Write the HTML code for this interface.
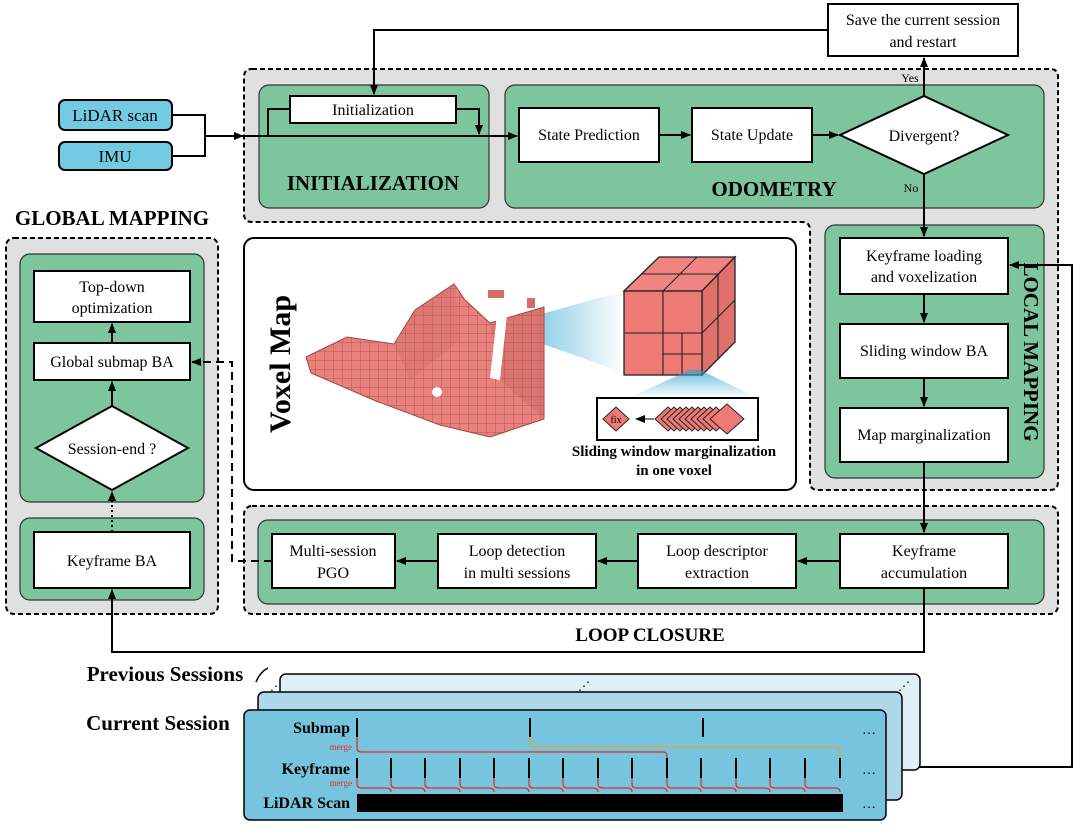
<!DOCTYPE html>
<html><head><meta charset="utf-8"><style>
html,body{margin:0;padding:0;background:#fff;}
svg{display:block;font-family:"Liberation Serif",serif;}
</style></head><body>
<svg width="1080" height="834" viewBox="0 0 1080 834" xmlns="http://www.w3.org/2000/svg">
<defs>
<marker id="a" markerWidth="10" markerHeight="10" refX="9" refY="5" orient="auto" markerUnits="userSpaceOnUse"><path d="M0,1 L10,5 L0,9 Z" fill="#000"/></marker>
<pattern id="grid" width="9" height="9" patternUnits="userSpaceOnUse"><rect width="9" height="9" fill="#e9817c"/><path d="M0,0 H9 M0,0 V9" stroke="#b85450" stroke-width="1"/></pattern>
<linearGradient id="cone" x1="0" x2="1" y1="0" y2="0"><stop offset="0" stop-color="#2aa3d0"/><stop offset="1" stop-color="#2aa3d0" stop-opacity="0"/></linearGradient>
<linearGradient id="cone2" x1="0" x2="0" y1="0" y2="1"><stop offset="0" stop-color="#2aa3d0"/><stop offset="1" stop-color="#2aa3d0" stop-opacity="0"/></linearGradient>
</defs>

<path d="M252,69 H1050 Q1058,69 1058,77 V482 Q1058,490 1050,490 H818 Q810,490 810,482 V230 Q810,222 802,222 H252 Q244,222 244,214 V77 Q244,69 252,69 Z" fill="#e0e0e0" stroke="#000" stroke-width="2" stroke-dasharray="5,3"/>
<rect x="6" y="238" width="212" height="376" rx="8" fill="#e0e0e0" stroke="#000" stroke-width="2" stroke-dasharray="5,3"/>
<rect x="244" y="506" width="814" height="108" rx="8" fill="#e0e0e0" stroke="#000" stroke-width="2" stroke-dasharray="5,3"/>

<rect x="259" y="85" width="230" height="123" rx="10" fill="#7dc59d" stroke="#333" stroke-width="1.2"/>
<rect x="505" y="85" width="539" height="123" rx="10" fill="#7dc59d" stroke="#333" stroke-width="1.2"/>
<rect x="825" y="225" width="219" height="253" rx="10" fill="#7dc59d" stroke="#333" stroke-width="1.2"/>
<rect x="20" y="254" width="184" height="248" rx="10" fill="#7dc59d" stroke="#333" stroke-width="1.2"/>
<rect x="20" y="518" width="184" height="82" rx="10" fill="#7dc59d" stroke="#333" stroke-width="1.2"/>
<rect x="258" y="520" width="786" height="84" rx="10" fill="#7dc59d" stroke="#333" stroke-width="1.2"/>

<text x="373" y="190" font-size="21" font-weight="bold" text-anchor="middle">INITIALIZATION</text>
<text x="774" y="196" font-size="21" font-weight="bold" text-anchor="middle">ODOMETRY</text>
<text x="112" y="225" font-size="21" font-weight="bold" text-anchor="middle">GLOBAL MAPPING</text>
<text x="650" y="641" font-size="19" font-weight="bold" text-anchor="middle">LOOP CLOSURE</text>
<text transform="translate(1024,352) rotate(90)" font-size="21" font-weight="bold" text-anchor="middle">LOCAL MAPPING</text>

<path d="M828,30 H374 V94" fill="none" stroke="#000" stroke-width="2" marker-end="url(#a)"/>
<path d="M172,115 H205 V156 H172" fill="none" stroke="#000" stroke-width="2"/>
<path d="M205,136 H243" stroke="#000" stroke-width="2" marker-end="url(#a)"/>
<path d="M243,136 H517" stroke="#000" stroke-width="2" marker-end="url(#a)"/>
<path d="M268,136 V109 H290" fill="none" stroke="#000" stroke-width="2"/>
<path d="M456,109 H479 V134" fill="none" stroke="#000" stroke-width="2" marker-end="url(#a)"/>
<path d="M659,135 H690" stroke="#000" stroke-width="2" marker-end="url(#a)"/>
<path d="M812,135 H838" stroke="#000" stroke-width="2" marker-end="url(#a)"/>
<path d="M924,96 V58" stroke="#000" stroke-width="2" marker-end="url(#a)"/>
<path d="M924,174 V236" stroke="#000" stroke-width="2" marker-end="url(#a)"/>
<path d="M924,294 V322" stroke="#000" stroke-width="2" marker-end="url(#a)"/>
<path d="M924,378 V406" stroke="#000" stroke-width="2" marker-end="url(#a)"/>
<path d="M924,462 V532" stroke="#000" stroke-width="2" marker-end="url(#a)"/>
<path d="M840,561 H798" stroke="#000" stroke-width="2" marker-end="url(#a)"/>
<path d="M638,561 H598" stroke="#000" stroke-width="2" marker-end="url(#a)"/>
<path d="M438,561 H397" stroke="#000" stroke-width="2" marker-end="url(#a)"/>
<path d="M924,588 V652 H112 V590" fill="none" stroke="#000" stroke-width="2" marker-end="url(#a)"/>
<path d="M112,343 V324" stroke="#000" stroke-width="2" marker-end="url(#a)"/>
<path d="M112,406 V382" stroke="#000" stroke-width="2" marker-end="url(#a)"/>
<path d="M112,532 V492" stroke="#000" stroke-width="2" stroke-dasharray="2,3" marker-end="url(#a)"/>
<path d="M272,561 H232 V362 H192" fill="none" stroke="#000" stroke-width="2" stroke-dasharray="8,5" marker-end="url(#a)"/>
<path d="M900,767 H1072 V265 H1010" fill="none" stroke="#000" stroke-width="2" marker-end="url(#a)"/>

<rect x="828" y="4" width="190" height="52" fill="#fff" stroke="#000" stroke-width="2"/>
<text x="923" y="25" font-size="16" text-anchor="middle">Save the current session</text>
<text x="923" y="47" font-size="16" text-anchor="middle">and restart</text>

<rect x="59" y="100" width="113" height="30" rx="6" fill="#72cbe3" stroke="#000" stroke-width="2"/>
<text x="115" y="121" font-size="17" text-anchor="middle">LiDAR scan</text>
<rect x="59" y="142" width="113" height="28" rx="6" fill="#72cbe3" stroke="#000" stroke-width="2"/>
<text x="115" y="162" font-size="17" text-anchor="middle">IMU</text>
<rect x="290" y="96" width="166" height="27" fill="#fff" stroke="#000" stroke-width="2"/>
<text x="373" y="115" font-size="16" text-anchor="middle">Initialization</text>

<rect x="519" y="108" width="140" height="54" fill="#fff" stroke="#000" stroke-width="2"/>
<text x="589" y="140" font-size="16" text-anchor="middle">State Prediction</text>
<rect x="692" y="108" width="120" height="54" fill="#fff" stroke="#000" stroke-width="2"/>
<text x="752" y="140" font-size="16" text-anchor="middle">State Update</text>
<polygon points="840,135 924,96 1008,135 924,174" fill="#fff" stroke="#000" stroke-width="2"/>
<text x="924" y="141" font-size="16" text-anchor="middle">Divergent?</text>
<text x="910" y="82" font-size="12" text-anchor="middle">Yes</text>
<text x="911" y="192" font-size="12" text-anchor="middle">No</text>

<rect x="840" y="238" width="168" height="56" fill="#fff" stroke="#000" stroke-width="2"/>
<text x="924" y="261" font-size="16" text-anchor="middle">Keyframe loading</text>
<text x="924" y="282" font-size="16" text-anchor="middle">and voxelization</text>
<rect x="840" y="324" width="168" height="54" fill="#fff" stroke="#000" stroke-width="2"/>
<text x="924" y="356" font-size="16" text-anchor="middle">Sliding window BA</text>
<rect x="840" y="408" width="168" height="54" fill="#fff" stroke="#000" stroke-width="2"/>
<text x="924" y="440" font-size="16" text-anchor="middle">Map marginalization</text>

<rect x="840" y="534" width="168" height="54" fill="#fff" stroke="#000" stroke-width="2"/>
<text x="924" y="556" font-size="16" text-anchor="middle">Keyframe</text>
<text x="924" y="578" font-size="16" text-anchor="middle">accumulation</text>
<rect x="638" y="534" width="158" height="54" fill="#fff" stroke="#000" stroke-width="2"/>
<text x="717" y="556" font-size="16" text-anchor="middle">Loop descriptor</text>
<text x="717" y="578" font-size="16" text-anchor="middle">extraction</text>
<rect x="438" y="534" width="158" height="54" fill="#fff" stroke="#000" stroke-width="2"/>
<text x="517" y="556" font-size="16" text-anchor="middle">Loop detection</text>
<text x="517" y="578" font-size="16" text-anchor="middle">in multi sessions</text>
<rect x="272" y="534" width="123" height="54" fill="#fff" stroke="#000" stroke-width="2"/>
<text x="333" y="556" font-size="16" text-anchor="middle">Multi-session</text>
<text x="333" y="578" font-size="16" text-anchor="middle">PGO</text>

<rect x="34" y="271" width="156" height="51" fill="#fff" stroke="#000" stroke-width="2"/>
<text x="112" y="292" font-size="16" text-anchor="middle">Top-down</text>
<text x="112" y="313" font-size="16" text-anchor="middle">optimization</text>
<rect x="34" y="343" width="156" height="37" fill="#fff" stroke="#000" stroke-width="2"/>
<text x="112" y="367" font-size="16" text-anchor="middle">Global submap BA</text>
<polygon points="36,448 112,406 188,448 112,490" fill="#fff" stroke="#000" stroke-width="2"/>
<text x="112" y="454" font-size="16" text-anchor="middle">Session-end ?</text>
<rect x="34" y="532" width="156" height="56" fill="#fff" stroke="#000" stroke-width="2"/>
<text x="112" y="566" font-size="16" text-anchor="middle">Keyframe BA</text>

<rect x="244" y="238" width="552" height="252" rx="10" fill="#fff" stroke="#000" stroke-width="2"/>
<text transform="translate(290,364) rotate(-90)" font-size="30" font-weight="bold" text-anchor="middle">Voxel Map</text>
<polygon points="495,327 624,291 624,375 616,370" fill="url(#cone)" opacity="0.8"/>
<polygon points="306,357 347,337 394,344 415,310 454,284 465,300 490,323 544,307 544,419 490,437 440,425 376,401 311,373" fill="url(#grid)" stroke="#a04844" stroke-width="1"/>
<polygon points="395,345 415,310 455,284 460,340 410,380" fill="#b85450" opacity="0.2"/>
<polygon points="490,323 544,307 544,419 500,380" fill="#b85450" opacity="0.25"/>
<rect x="488" y="290" width="16" height="8" fill="#d36d69"/>
<rect x="527" y="298" width="8" height="10" fill="#d36d69"/>
<circle cx="437" cy="392" r="5" fill="#fff"/>
<polygon points="498,305 508,305 500,380 490,378" fill="#fff"/>
<polygon points="624,291 659,257 735,257 702,291" fill="#f08480" stroke="#222" stroke-width="1.3"/>
<polygon points="702,291 735,257 735,342 702,375" fill="#e0706c" stroke="#222" stroke-width="1.3"/>
<rect x="624" y="291" width="78" height="84" fill="#ee7a75" stroke="#222" stroke-width="1.3"/>
<path d="M663,291 V375 M624,333 H702 M663,354 H702 M682,333 V375 M642,274 H718 M697,257 L663,291 M702,333 L735,300 M718,274 V358" fill="none" stroke="#222" stroke-width="1.1"/>
<polygon points="628,398 690,370 700,370 758,398" fill="url(#cone2)" opacity="0.7"/>
<rect x="597" y="398" width="161" height="42" fill="#fff" stroke="#000" stroke-width="2"/>
<polygon points="603,419 616,407 629,419 616,431" fill="#ee7a75" stroke="#222"/>
<text x="616" y="423" font-size="10" text-anchor="middle">fix</text>
<path d="M654,419 H636" stroke="#000" stroke-width="1" marker-end="url(#a)"/>
<g fill="#ee7a75" stroke="#222" stroke-width="1">
<polygon points="655,419 668,407 681,419 668,431"/><polygon points="661,419 674,407 687,419 674,431"/>
<polygon points="667,419 680,407 693,419 680,431"/><polygon points="673,419 686,407 699,419 686,431"/>
<polygon points="679,419 692,407 705,419 692,431"/><polygon points="685,419 698,407 711,419 698,431"/>
<polygon points="691,419 704,407 717,419 704,431"/><polygon points="697,419 710,407 723,419 710,431"/>
<polygon points="703,419 716,407 729,419 716,431"/><polygon points="710,419 727,404 744,419 727,434"/>
</g>
<text x="674" y="456" font-size="15" font-weight="bold" text-anchor="middle">Sliding window marginalization</text>
<text x="674" y="475" font-size="15" font-weight="bold" text-anchor="middle">in one voxel</text>

<rect x="280" y="674" width="640" height="96" rx="6" fill="#dff0f8" stroke="#000" stroke-width="1.5"/>
<rect x="258" y="692" width="644" height="108" rx="6" fill="#aed8ea" stroke="#000" stroke-width="1.5"/>
<rect x="244" y="710" width="642" height="110" rx="6" fill="#77c4de" stroke="#000" stroke-width="1.5"/>
<text x="165" y="681" font-size="21" font-weight="bold" text-anchor="middle">Previous Sessions</text>
<path d="M256,682 Q260,672 268,668" fill="none" stroke="#000" stroke-width="1.5"/>
<text x="270" y="690" font-size="12">⋰</text>
<text x="578" y="690" font-size="12">⋰</text>
<text x="898" y="690" font-size="12">⋰</text>
<text x="158" y="730" font-size="21" font-weight="bold" text-anchor="middle">Current Session</text>
<text x="350" y="733" font-size="16" font-weight="bold" text-anchor="end">Submap</text>
<text x="350" y="774" font-size="16" font-weight="bold" text-anchor="end">Keyframe</text>
<text x="350" y="808" font-size="16" font-weight="bold" text-anchor="end">LiDAR Scan</text>
<text x="352" y="750" font-size="9" fill="#e0302a" text-anchor="end">merge</text>
<text x="352" y="786" font-size="9" fill="#e0302a" text-anchor="end">merge</text>
<text x="862" y="734" font-size="14">…</text>
<text x="862" y="774" font-size="14">…</text>
<text x="862" y="808" font-size="14">…</text>
<g stroke="#000" stroke-width="2">
<path d="M357,718 V737 M530,718 V737 M703,718 V737"/>
<path d="M357,758 V778 M391,758 V778 M425,758 V778 M460,758 V778 M494,758 V778 M529,758 V778 M563,758 V778 M598,758 V778 M632,758 V778 M667,758 V778 M701,758 V778 M736,758 V778 M770,758 V778 M805,758 V778 M840,758 V778"/>
</g>
<rect x="357" y="794" width="486" height="18" fill="#000"/>
<path d="M357,737 V748 Q357,752 362,752 H663 Q667,752 667,756 V758" fill="none" stroke="#e0302a" stroke-width="1.3"/>
<path d="M530,737 V744 Q530,747 535,747 H836 Q840,747 840,752 V758" fill="none" stroke="#e8a32a" stroke-width="1.3"/>
<path d="M357,778 V784 Q357,788 362,788 H386 Q391,788 391,792 M391,778 V784 Q391,788 396,788 H420 Q425,788 425,792 M425,778 V784 Q425,788 430,788 H455 Q460,788 460,792 M460,778 V784 Q460,788 465,788 H489 Q494,788 494,792 M494,778 V784 Q494,788 499,788 H524 Q529,788 529,792 M529,778 V784 Q529,788 534,788 H558 Q563,788 563,792 M563,778 V784 Q563,788 568,788 H593 Q598,788 598,792 M598,778 V784 Q598,788 603,788 H627 Q632,788 632,792 M632,778 V784 Q632,788 637,788 H662 Q667,788 667,792 M667,778 V784 Q667,788 672,788 H696 Q701,788 701,792 M701,778 V784 Q701,788 706,788 H731 Q736,788 736,792 M736,778 V784 Q736,788 741,788 H765 Q770,788 770,792 M770,778 V784 Q770,788 775,788 H800 Q805,788 805,792 M805,778 V784 Q805,788 810,788 H835 Q840,788 840,792" fill="none" stroke="#e0302a" stroke-width="1.3"/>
</svg>
</body></html>
